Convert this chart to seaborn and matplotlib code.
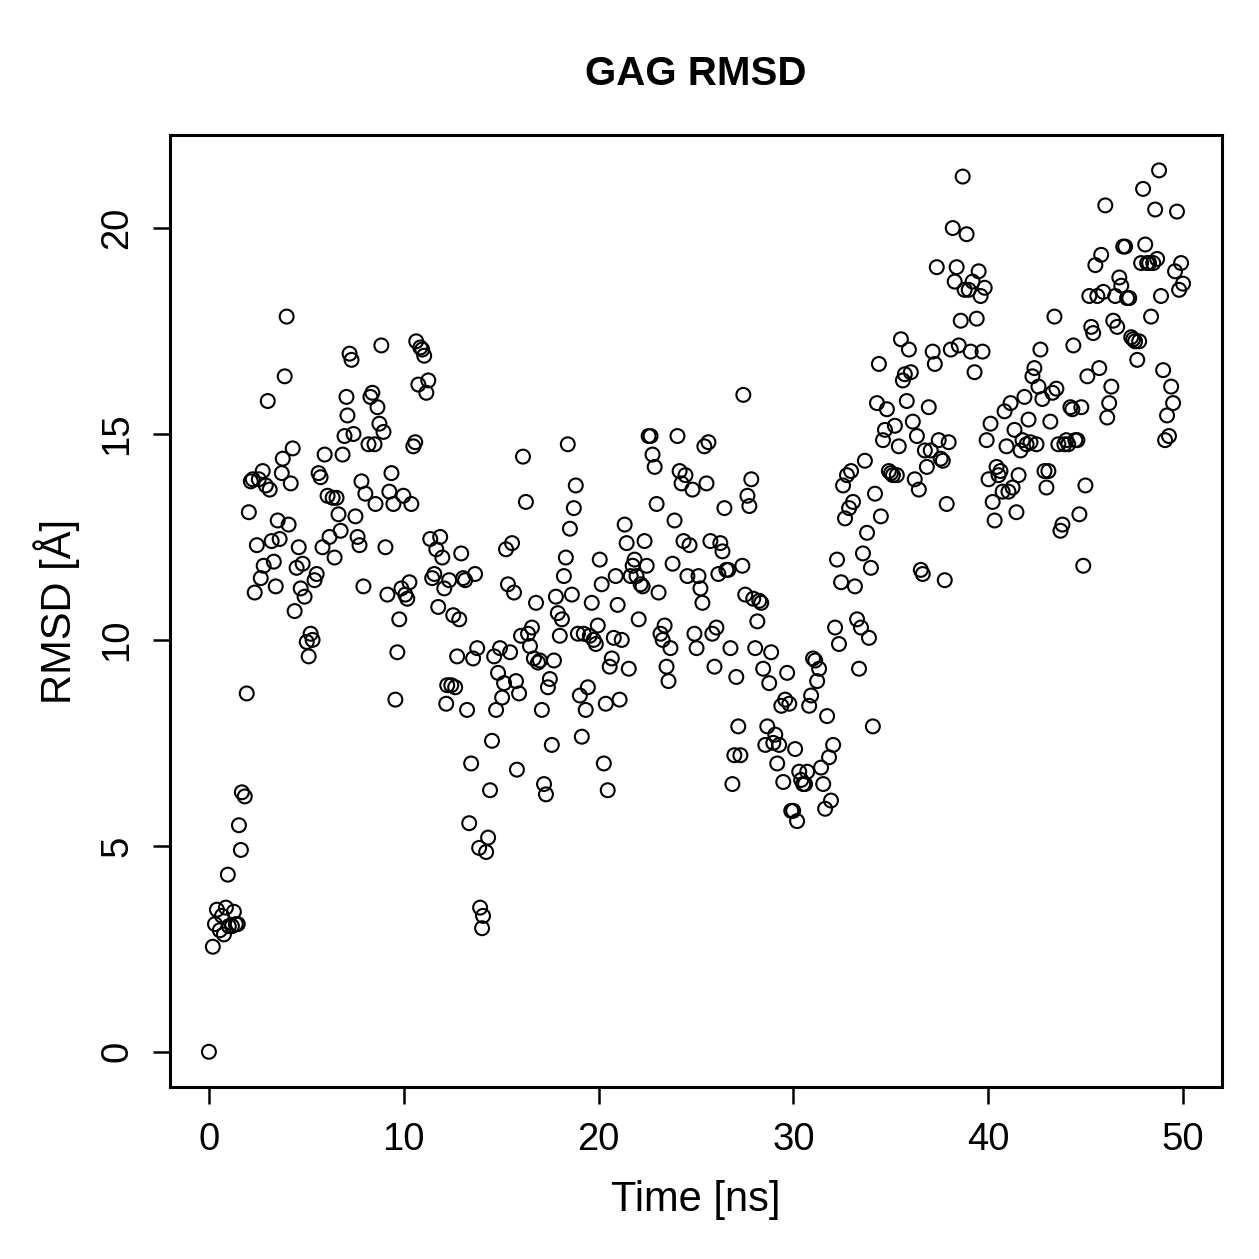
import matplotlib
matplotlib.use("Agg")
import matplotlib.pyplot as plt
import pandas as pd
import seaborn as sns

# values (time in ns, RMSD in Angstrom)
time_ns = [
    0.0, 0.2, 0.31, 0.41, 0.56, 0.67, 0.77, 0.87, 1.02, 0.97, 1.18, 1.28, 1.38, 1.48, 1.54, 1.64, 1.69, 1.84, 1.94,
    2.05, 2.15, 2.25, 2.35, 2.46, 2.56, 2.66, 2.76, 2.81, 2.92, 3.02, 3.12, 3.22, 3.33, 3.43, 3.53, 3.63, 3.74, 3.79,
    3.89, 3.99, 4.09, 4.2, 4.3, 4.4, 4.5, 4.61, 4.71, 4.81, 4.91, 5.02, 5.12, 5.22, 5.32, 5.42, 5.53, 5.63, 5.73,
    5.83, 5.94, 6.09, 6.19, 6.35, 6.45, 6.55, 6.65, 6.76, 6.86, 6.96, 7.06, 7.11, 7.22, 7.32, 7.42, 7.52, 7.63, 7.73,
    7.83, 7.93, 8.03, 8.19, 8.29, 8.39, 8.5, 8.55, 8.65, 8.75, 8.85, 8.96, 9.06, 9.16, 9.26, 9.37, 9.47, 9.57, 9.67,
    9.77, 9.88, 9.98, 10.08, 10.18, 10.29, 10.39, 10.49, 10.59, 10.64, 10.75, 10.85, 10.95, 11.05, 11.16, 11.26,
    11.36, 11.46, 11.57, 11.67, 11.77, 11.87, 11.98, 12.08, 12.18, 12.23, 12.33, 12.44, 12.54, 12.64, 12.74, 12.85,
    12.95, 13.05, 13.15, 13.25, 13.36, 13.46, 13.56, 13.66, 13.77, 13.87, 13.92, 14.02, 14.07, 14.23, 14.33, 14.43,
    14.53, 14.64, 14.74, 14.84, 14.94, 15.05, 15.15, 15.25, 15.35, 15.46, 15.56, 15.66, 15.76, 15.81, 15.92, 16.02,
    16.12, 16.27, 16.38, 16.48, 16.58, 16.68, 16.79, 16.89, 16.99, 17.09, 17.2, 17.3, 17.4, 17.5, 17.6, 17.71, 17.81,
    17.91, 18.01, 18.12, 18.22, 18.32, 18.42, 18.53, 18.63, 18.73, 18.83, 18.94, 19.04, 19.14, 19.24, 19.34, 19.45,
    19.55, 19.65, 19.75, 19.86, 19.96, 20.06, 20.16, 20.27, 20.37, 20.47, 20.57, 20.68, 20.78, 20.88, 20.98, 21.08,
    21.19, 21.34, 21.44, 21.55, 21.65, 21.75, 21.85, 21.95, 22.06, 22.16, 22.26, 22.36, 22.47, 22.57, 22.67, 22.77,
    22.88, 22.98, 23.08, 23.18, 23.29, 23.39, 23.49, 23.59, 23.69, 23.8, 23.9, 24.05, 24.16, 24.26, 24.36, 24.46,
    24.56, 24.67, 24.82, 24.92, 25.03, 25.13, 25.23, 25.33, 25.43, 25.54, 25.64, 25.74, 25.84, 25.95, 26.05, 26.15,
    26.25, 26.36, 26.46, 26.56, 26.66, 26.77, 26.87, 26.97, 27.07, 27.17, 27.28, 27.38, 27.43, 27.53, 27.64, 27.74,
    27.84, 27.94, 28.04, 28.15, 28.25, 28.35, 28.45, 28.56, 28.66, 28.76, 28.86, 28.97, 29.07, 29.17, 29.27, 29.38,
    29.48, 29.58, 29.68, 29.79, 29.89, 29.99, 30.09, 30.19, 30.3, 30.4, 30.5, 30.6, 30.71, 30.81, 30.91, 31.01, 31.12,
    31.22, 31.32, 31.42, 31.53, 31.63, 31.73, 31.83, 31.93, 32.04, 32.14, 32.24, 32.34, 32.45, 32.55, 32.65, 32.75,
    32.86, 32.96, 33.06, 33.16, 33.27, 33.37, 33.47, 33.57, 33.67, 33.78, 33.88, 33.98, 34.08, 34.19, 34.29, 34.39,
    34.49, 34.6, 34.7, 34.8, 34.9, 35.01, 35.11, 35.21, 35.31, 35.41, 35.52, 35.62, 35.72, 35.82, 35.93, 36.03, 36.13,
    36.23, 36.34, 36.44, 36.54, 36.64, 36.75, 36.85, 36.95, 37.05, 37.15, 37.26, 37.36, 37.46, 37.56, 37.67, 37.77,
    37.87, 37.97, 38.08, 38.18, 38.28, 38.38, 38.49, 38.59, 38.69, 38.79, 38.89, 39.0, 39.1, 39.2, 39.3, 39.41, 39.51,
    39.61, 39.71, 39.82, 39.92, 40.02, 40.12, 40.23, 40.33, 40.43, 40.53, 40.63, 40.74, 40.84, 40.94, 41.04, 41.15,
    41.25, 41.35, 41.45, 41.56, 41.66, 41.76, 41.86, 41.97, 42.07, 42.17, 42.27, 42.37, 42.48, 42.58, 42.68, 42.78,
    42.89, 42.99, 43.09, 43.19, 43.3, 43.4, 43.5, 43.6, 43.71, 43.81, 43.91, 44.01, 44.11, 44.22, 44.32, 44.37, 44.47,
    44.58, 44.68, 44.78, 44.88, 44.99, 45.09, 45.19, 45.29, 45.39, 45.5, 45.6, 45.7, 45.8, 45.91, 46.01, 46.11, 46.21,
    46.32, 46.42, 46.52, 46.62, 46.73, 46.83, 46.93, 47.03, 47.13, 47.24, 47.34, 47.44, 47.54, 47.65, 47.75, 47.85,
    47.95, 48.06, 48.16, 48.26, 48.36, 48.47, 48.57, 48.67, 48.77, 48.87, 48.98, 49.08, 49.18, 49.28, 49.39, 49.49,
    49.59, 49.69, 49.8, 49.9, 50.0,
]

rmsd = [
    0.0, 2.55, 3.1, 3.45, 2.95, 3.3, 2.85, 3.5, 3.05, 4.3, 3.05, 3.4, 3.1, 3.1, 5.5, 4.9, 6.3, 6.2, 8.7,
    13.1, 13.85, 13.9, 11.15, 12.3, 13.9, 11.5, 14.1, 11.8, 13.75, 15.8, 13.65, 12.4, 11.9, 11.3, 12.9, 12.45, 14.05, 14.4,
    16.4, 17.85, 12.8, 13.8, 14.65, 10.7, 11.75, 12.25, 11.25, 11.85, 11.05, 9.95, 9.6, 10.15, 10.0, 11.45, 11.6, 14.05, 13.95,
    12.25, 14.5, 13.5, 12.5, 13.45, 12.0, 13.45, 13.05, 12.65, 14.5, 14.95, 15.9, 15.45, 16.95, 16.8, 15.0, 13.0, 12.5, 12.3,
    13.85, 11.3, 13.55, 14.75, 15.9, 16.0, 14.75, 13.3, 15.65, 15.25, 17.15, 15.05, 12.25, 11.1, 13.6, 14.05, 13.3, 8.55, 9.7,
    10.5, 11.25, 13.5, 11.1, 11.0, 11.4, 13.3, 14.7, 14.8, 17.25, 16.2, 17.1, 17.05, 16.9, 16.0, 16.3,
    12.45, 11.5, 11.6, 12.2, 10.8, 12.5, 12.0, 11.25, 8.45, 8.9, 11.45, 8.9, 10.6, 8.85, 9.6, 10.5,
    12.1, 11.5, 11.45, 8.3, 5.55, 7.0, 9.55, 11.6, 9.8, 4.95, 3.5, 3.0, 3.3, 4.85, 5.2, 6.35,
    7.55, 9.6, 8.3, 9.2, 9.8, 8.6, 8.95, 12.2, 11.35, 9.7, 12.35, 11.15, 9.0, 6.85, 8.7, 10.1,
    14.45, 13.35, 10.15, 9.85, 10.3, 9.55, 10.9, 9.45, 9.5, 8.3, 6.5, 6.25, 8.85, 9.05, 7.45, 9.5, 11.05,
    10.65, 10.1, 10.5, 11.55, 12.0, 14.75, 12.7, 11.1, 13.2, 13.75, 10.15, 8.65, 7.65, 10.15, 8.3, 8.85,
    10.1, 10.9, 10.0, 9.9, 10.35, 11.95, 11.35, 7.0, 8.45, 6.35, 9.35, 9.55, 10.05, 11.55, 10.85, 8.55,
    10.0, 12.8, 12.35, 9.3, 11.55, 11.8, 11.95, 11.55, 10.5, 11.35, 11.3, 12.4, 11.8, 14.95, 14.95, 14.5,
    14.2, 13.3, 11.15, 10.15, 10.0, 10.35, 9.35, 9.0, 9.8, 11.85, 12.9, 14.95, 14.1, 13.8, 12.4, 14.0,
    11.55, 12.3, 13.65, 10.15, 9.8, 11.55, 11.25, 10.9, 14.7, 13.8, 14.8, 12.4, 10.15, 9.35, 10.3, 11.6,
    12.35, 12.15, 13.2, 11.7, 11.7, 9.8, 6.5, 7.2, 9.1, 7.9, 7.2, 11.8, 15.95, 11.1, 13.5, 13.25,
    13.9, 11.0, 9.8, 10.45, 10.95, 10.9, 9.3, 7.45, 7.9, 8.95, 9.7, 7.5, 7.7, 7.0, 7.45, 8.4,
    6.55, 8.55, 9.2, 8.45, 5.85, 5.85, 7.35, 5.6, 6.8, 6.6, 6.5, 6.5, 6.8, 8.4, 8.65, 9.55, 9.5,
    9.0, 9.3, 6.9, 6.5, 5.9, 8.15, 7.15, 6.1, 7.45, 10.3, 11.95, 9.9, 11.4, 13.75, 12.95, 14.0,
    13.2, 14.1, 13.35, 11.3, 10.5, 9.3, 10.3, 12.1, 14.35, 12.6, 10.05, 11.75, 7.9, 13.55, 15.75, 16.7,
    13.0, 14.85, 15.1, 15.6, 14.1, 14.05, 14.0, 15.2, 14.0, 14.7, 17.3, 16.3, 16.45, 15.8, 17.05, 16.5, 15.3,
    13.9, 14.95, 13.65, 11.7, 11.6, 14.6, 14.2, 15.65, 14.6, 17.0, 16.7, 19.05, 14.85, 14.4, 14.35, 11.45,
    13.3, 14.8, 17.05, 20.0, 18.7, 19.05, 17.15, 17.75, 21.25, 18.5, 19.85, 18.5, 17.0, 18.7, 16.5, 17.8, 18.95,
    18.35, 17.0, 18.55, 14.85, 13.9, 15.25, 13.35, 12.9, 14.2, 14.0, 14.1, 13.6, 15.55, 14.7, 13.6, 15.75,
    13.7, 15.1, 13.1, 14.0, 14.6, 14.85, 15.9, 14.75, 15.35, 14.8, 16.4, 16.6, 14.75, 16.15, 17.05, 15.85,
    14.1, 13.7, 14.1, 15.3, 16.0, 17.85, 16.1, 14.75, 12.65, 12.8, 14.75, 14.85, 14.75, 15.65, 15.6, 17.15, 14.85,
    14.85, 13.05, 15.65, 11.8, 13.75, 16.4, 18.35, 17.6, 17.45, 19.1, 18.35, 16.6, 19.35, 18.45, 20.55, 15.4, 15.75,
    16.15, 17.75, 18.35, 17.6, 18.8, 18.6, 19.55, 19.55, 18.3, 18.3, 17.35, 17.3, 17.25, 16.8, 17.25, 19.15,
    20.95, 19.6, 19.15, 19.15, 17.85, 19.15, 20.45, 19.25, 21.4, 18.35, 16.55, 14.85, 15.45, 14.95, 16.15, 15.75,
    18.95, 20.4, 18.5, 19.15, 18.65,
]

df = pd.DataFrame({"time": time_ns, "rmsd": rmsd})

sns.set_style("white")
plt.rcParams["font.family"] = ["Liberation Sans", "DejaVu Sans"]

fig = plt.figure(figsize=(12.59, 12.59), dpi=100)
ax = fig.add_axes([0.135, 0.1366, 0.8356, 0.7562])

sns.scatterplot(
    data=df, x="time", y="rmsd", ax=ax,
    marker="o", s=100, facecolor="none", edgecolor="black", linewidth=1.5,
)

ax.set_xlim(-2, 52)
ax.set_ylim(-0.856, 22.26)
ax.set_xticks([0, 10, 20, 30, 40, 50])
ax.set_yticks([0, 5, 10, 15, 20])
ax.tick_params(axis="both", direction="out", length=12, width=1.8, labelsize=27.5,
               color="black", labelcolor="black", pad=13, bottom=True, left=True)
for lbl in ax.get_yticklabels():
    lbl.set_rotation(90)
    lbl.set_va("center")

for spine in ax.spines.values():
    spine.set_visible(True)
    spine.set_color("black")
    spine.set_linewidth(2.2)

ax.set_xlabel("Time [ns]", fontsize=30, color="black", labelpad=16)
ax.set_ylabel("RMSD [Å]", fontsize=30, color="black", labelpad=14)
ax.set_title("GAG RMSD", fontsize=29, fontweight="bold", color="black", pad=36)

fig.savefig("out.png", dpi=100)
plt.close(fig)
